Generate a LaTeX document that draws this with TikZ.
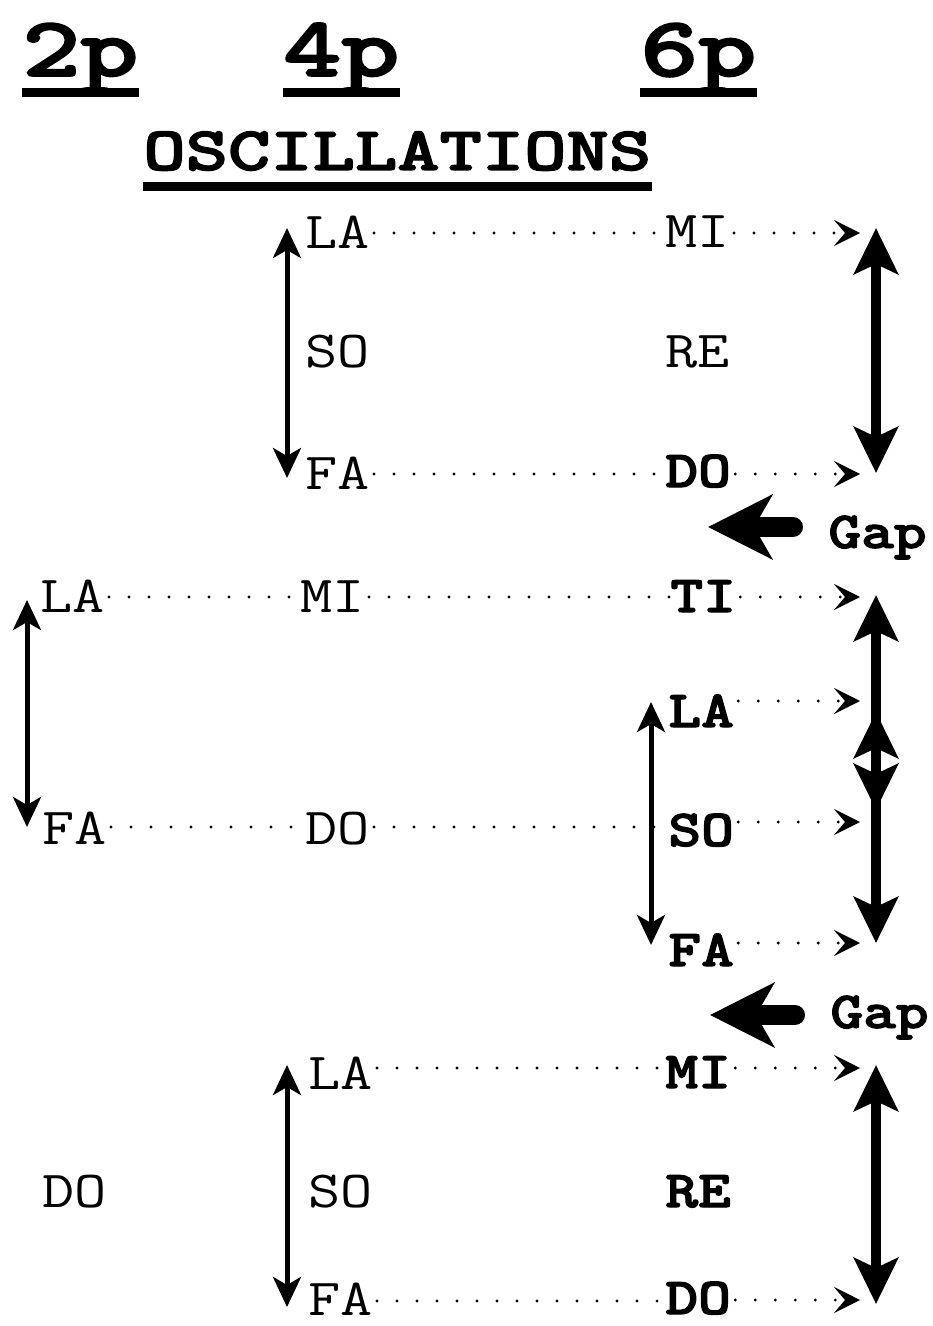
\documentclass[tikz,border=0pt]{standalone}
\usepackage{fontspec}
\usepackage{graphicx}
\usetikzlibrary{arrows.meta}
\newfontfamily\hvy{lmmonolt10-bold.otf}[FakeBold=2]
\newcommand{\SX}[1]{\scalebox{1.2}[1]{#1}}
\newcommand{\SH}[1]{\scalebox{1.3}[1]{#1}}
\tikzset{
  lbl/.style={inner sep=0pt, anchor=base west, font=\fontsize{26}{26}\selectfont\ttfamily},
  lblb/.style={lbl, font=\fontsize{26}{26}\selectfont\hvy},
  hdr/.style={inner sep=0pt, anchor=base west, font=\fontsize{42.5}{42.5}\selectfont\hvy},
  ttl/.style={inner sep=0pt, anchor=base west, font=\fontsize{31}{31}\selectfont\hvy},
  ul/.style={line width=4.5pt},
  dotl/.style={line width=1.6pt, dash pattern=on 0pt off 10pt, line cap=round, shorten <=2pt},
  dota/.style={dotl, -{Stealth[length=13pt,width=13pt,inset=5.5pt]}},
  smallarr/.style={line width=2.5pt, {Stealth[length=15pt,width=14pt,inset=4pt]}-{Stealth[length=15pt,width=14pt,inset=4pt]}},
  bigarr/.style={line width=5pt, {Stealth[length=23pt,width=22pt,inset=5pt]}-{Stealth[length=23pt,width=22pt,inset=5pt]}},
  gaparr/.style={line width=10pt, line cap=round, -{Stealth[length=32pt,width=32pt,inset=9pt]}}
}
\begin{document}
\begin{tikzpicture}[x=0.5pt,y=-0.5pt]
\useasboundingbox (0,0) rectangle (932,1326);
\fill[white] (0,0) rectangle (932,1326);
% headers
\node[hdr] (h2) at (22,76) {\SH{2p}};
\node[hdr] (h4) at (283,76) {\SH{4p}};
\node[hdr] (h6) at (640,76) {\SH{6p}};
\node[ttl] (osc) at (143,170) {\SH{OSCILLATIONS}};
\draw[ul] (h2.west |- 0,93) -- (h2.east |- 0,93);
\draw[ul] (h4.west |- 0,93) -- (h4.east |- 0,93);
\draw[ul] (h6.west |- 0,93) -- (h6.east |- 0,93);
\draw[ul] (osc.west |- 0,187) -- (osc.east |- 0,187);
% section 1
\node[lbl] (la1) at (305,249) {\SX{LA}};
\node[lbl] (so1) at (305,367) {\SX{SO}};
\node[lbl] (fa1) at (305,489) {\SX{FA}};
\node[lbl] (mi1) at (665,248) {\SX{MI}};
\node[lbl] (re1) at (665,367) {\SX{RE}};
\node[lblb] (do1) at (665,487) {\SX{DO}};
\node[lblb] (gap1) at (828,548) {\SX{Gap}};
\coordinate (t1a) at (860,233);
\coordinate (t1b) at (860,474);
\draw[dotl] (la1.east |- 0,233) -- (mi1.west |- 0,233);
\draw[dota] (mi1.east |- 0,233) -- (t1a);
\draw[dotl] (fa1.east |- 0,474) -- (do1.west |- 0,474);
\draw[dota] (do1.east |- 0,474) -- (t1b);
\coordinate (s1a) at (287,228); \coordinate (s1b) at (287,478);
\draw[smallarr] (s1a) -- (s1b);
\coordinate (b1a) at (876,228); \coordinate (b1b) at (876,473);
\draw[bigarr] (b1a) -- (b1b);
\coordinate (g1t) at (793,527); \coordinate (g1h) at (708,527);
\draw[gaparr] (g1t) -- (g1h);
% section 2
\node[lbl] (la2) at (40,612) {\SX{LA}};
\node[lbl] (mi2) at (300,612) {\SX{MI}};
\node[lblb] (ti2) at (670,612) {\SX{TI}};
\node[lblb] (la6) at (668,727) {\SX{LA}};
\node[lbl] (fa2) at (42,844) {\SX{FA}};
\node[lbl] (do4) at (305,844) {\SX{DO}};
\node[lblb] (so6) at (668,846) {\SX{SO}};
\node[lblb] (fa6) at (668,966) {\SX{FA}};
\node[lblb] (gap2) at (830,1028) {\SX{Gap}};
\coordinate (t2a) at (860,597);
\coordinate (t2b) at (860,701);
\coordinate (t2c) at (860,822);
\coordinate (t2d) at (860,943);
\draw[dotl] (la2.east |- 0,597) -- (mi2.west |- 0,597);
\draw[dotl] (mi2.east |- 0,597) -- (ti2.west |- 0,597);
\draw[dota] (ti2.east |- 0,597) -- (t2a);
\draw[dota] (la6.east |- 0,701) -- (t2b);
\draw[dotl] (fa2.east |- 0,827) -- (do4.west |- 0,827);
\draw[dotl] (do4.east |- 0,827) -- (so6.west |- 0,827);
\draw[dota] (so6.east |- 0,822) -- (t2c);
\draw[dota] (fa6.east |- 0,943) -- (t2d);
\coordinate (s2a) at (27,600); \coordinate (s2b) at (27,827);
\draw[smallarr] (s2a) -- (s2b);
\coordinate (s2c) at (651,702); \coordinate (s2d) at (651,945);
\draw[smallarr] (s2c) -- (s2d);
\coordinate (b2a) at (876,595); \coordinate (b2b) at (876,810);
\draw[bigarr] (b2a) -- (b2b);
\coordinate (b2c) at (876,712); \coordinate (b2d) at (876,943);
\draw[bigarr] (b2c) -- (b2d);
\coordinate (g2t) at (795,1015); \coordinate (g2h) at (710,1015);
\draw[gaparr] (g2t) -- (g2h);
% section 3
\node[lbl] (la3) at (308,1089) {\SX{LA}};
\node[lblb] (mi3) at (665,1088) {\SX{MI}};
\node[lbl] (do2) at (42,1207) {\SX{DO}};
\node[lbl] (so3) at (308,1207) {\SX{SO}};
\node[lblb] (re3) at (665,1207) {\SX{RE}};
\node[lbl] (fa3) at (308,1315) {\SX{FA}};
\node[lblb] (do3) at (665,1314) {\SX{DO}};
\coordinate (t3a) at (860,1068);
\coordinate (t3b) at (860,1300);
\draw[dotl] (la3.east |- 0,1068) -- (mi3.west |- 0,1068);
\draw[dota] (mi3.east |- 0,1068) -- (t3a);
\draw[dotl] (fa3.east |- 0,1301) -- (do3.west |- 0,1301);
\draw[dota] (do3.east |- 0,1300) -- (t3b);
\coordinate (s3a) at (287,1065); \coordinate (s3b) at (287,1307);
\draw[smallarr] (s3a) -- (s3b);
\coordinate (b3a) at (876,1065); \coordinate (b3b) at (876,1304);
\draw[bigarr] (b3a) -- (b3b);
\end{tikzpicture}
\end{document}
